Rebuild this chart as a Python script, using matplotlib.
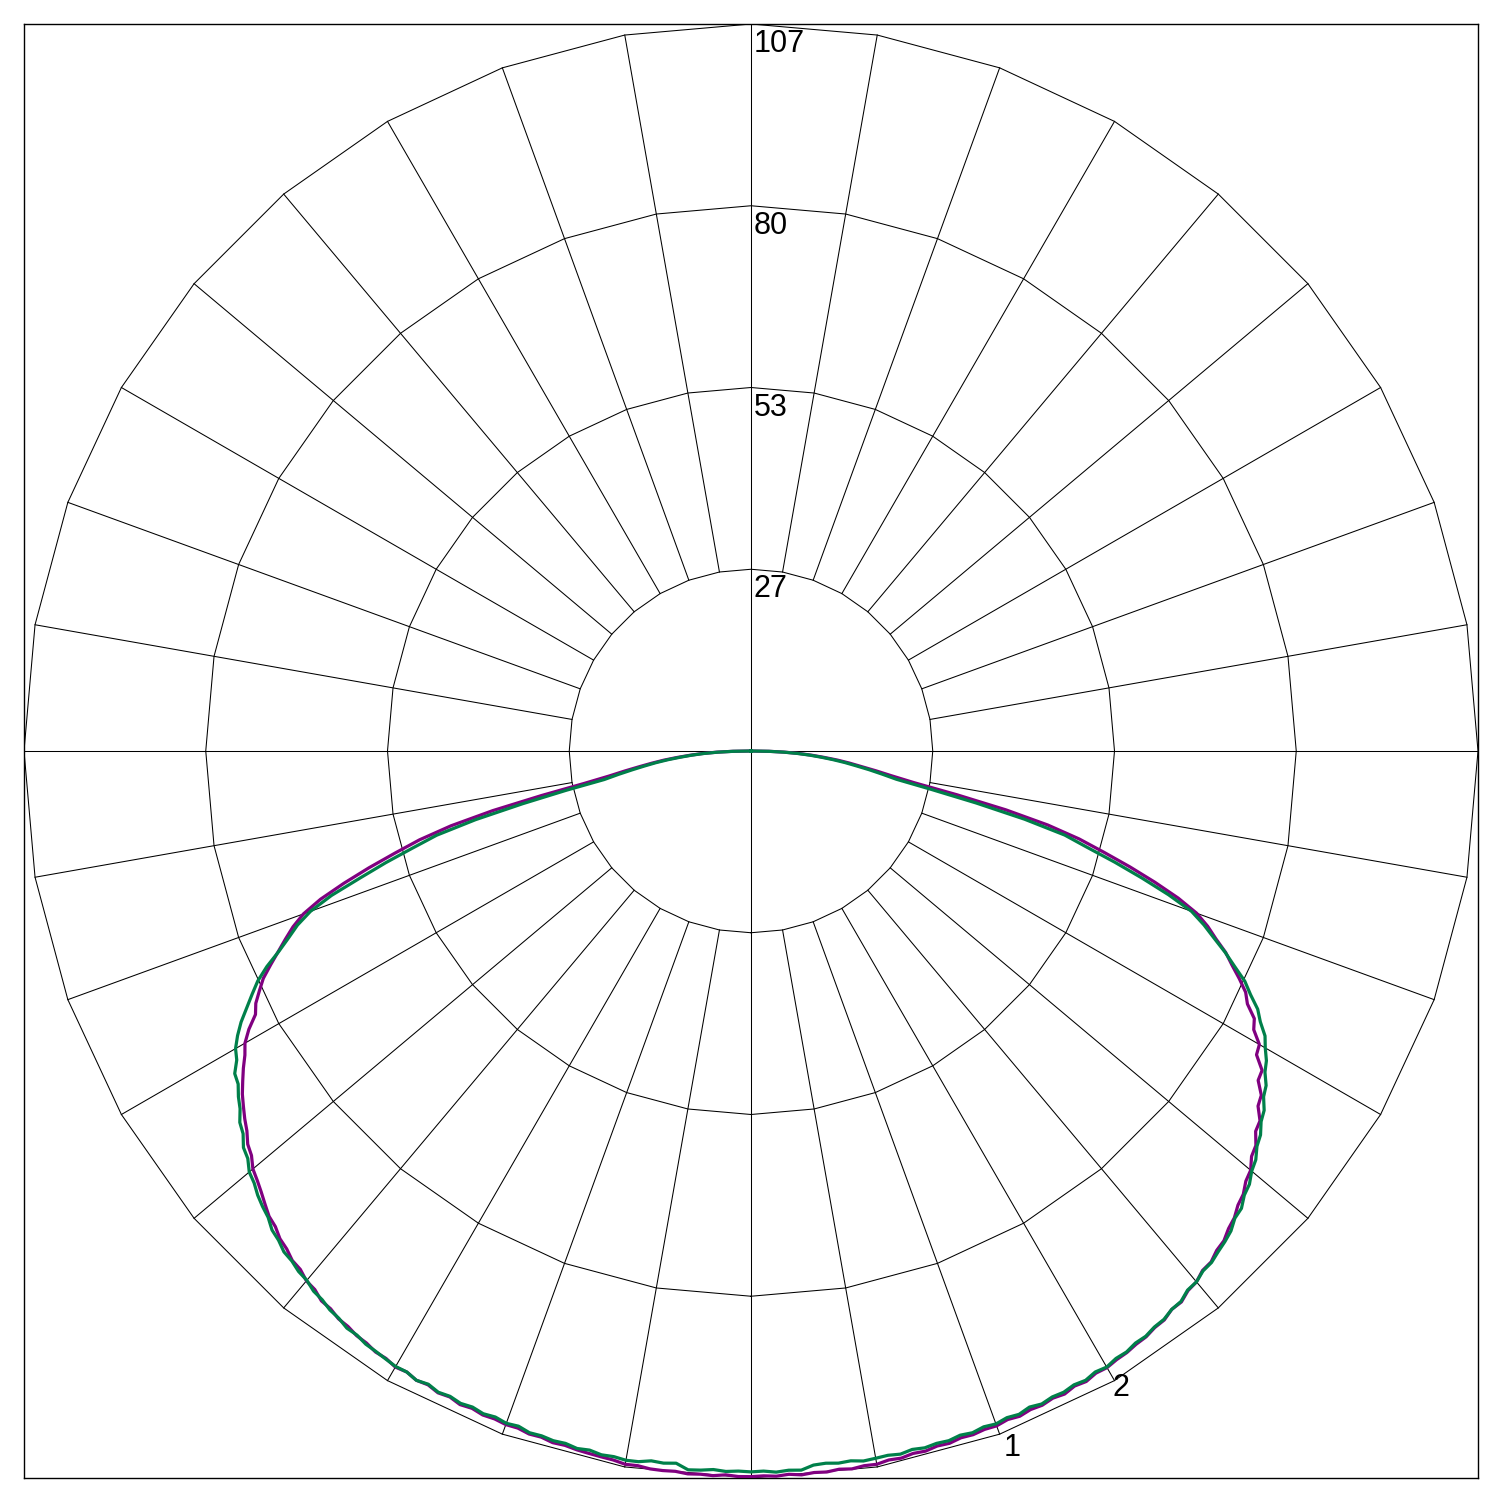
import numpy as np
import matplotlib
matplotlib.use("Agg")
import matplotlib.pyplot as plt

# ---------------- data ----------------
r_max = 107
ring_labels = ["27", "53", "80", "107"]
curve_labels = ["1", "2"]
curve_label_angles = [20, 30]

angles = list(range(-90, 91))  # gamma, 0 = straight down, positive = right

curve1 = [  # purple
    0.0, 2.7, 5.1, 7.2, 9.0, 10.9, 12.9, 14.7, 16.6, 18.8,
    21.2, 25.0, 31.5, 39.0, 45.5, 50.5, 54.5, 58.8, 63.0, 67.0,
    70.1, 72.2, 73.9, 75.6, 77.4, 79.2, 80.5, 81.8, 82.6, 84.5,
    86.0, 86.9, 88.1, 89.2, 90.3, 91.2, 92.1, 92.9, 94.0, 94.6,
    95.7, 96.3, 97.0, 97.8, 98.6, 99.0, 99.8, 100.2, 100.9, 101.1,
    101.8, 102.0, 102.7, 102.8, 103.3, 103.4, 103.8, 103.9, 104.3, 104.3,
    104.7, 104.5, 104.9, 104.7, 105.1, 104.9, 105.3, 105.1, 105.4, 105.3,
    105.5, 105.4, 105.7, 105.6, 105.9, 105.8, 106.0, 106.1, 106.2, 106.3,
    106.6, 106.5, 106.7, 106.7, 106.6, 106.8, 106.7, 106.8, 106.6, 106.8,
    106.8, 106.7, 106.8, 106.6, 106.8, 106.6, 106.7, 106.5, 106.7, 106.5,
    106.6, 106.3, 106.4, 106.1, 106.2, 105.9, 106.0, 105.7, 105.8, 105.6,
    105.7, 105.4, 105.6, 105.3, 105.4, 105.1, 105.3, 104.9, 105.1, 104.7,
    104.8, 104.5, 104.4, 104.1, 104.0, 103.6, 103.5, 102.9, 102.9, 102.2,
    102.0, 101.3, 101.2, 100.5, 100.2, 99.4, 98.9, 98.0, 97.5, 96.5,
    96.0, 94.8, 94.3, 93.0, 92.6, 91.1, 90.6, 89.0, 88.7, 86.8,
    86.4, 84.6, 83.9, 82.0, 81.0, 79.3, 77.5, 75.9, 73.8, 72.0,
    69.8, 66.5, 62.5, 58.3, 54.0, 50.0, 45.0, 38.5, 31.0, 24.5,
    21.0, 18.6, 16.4, 14.6, 12.8, 10.8, 9.0, 7.1, 5.0, 2.7, 0.0,
]

curve2 = [  # green
    0.0, 2.6, 4.9, 6.9, 8.7, 10.4, 12.3, 14.1, 15.8, 17.7,
    19.8, 22.0, 27.8, 34.5, 41.8, 47.9, 51.8, 56.2, 60.5, 65.3,
    69.0, 71.5, 73.4, 75.5, 78.0, 80.1, 81.7, 83.3, 85.0, 86.4,
    87.6, 88.3, 89.6, 90.0, 91.0, 91.8, 93.0, 93.6, 94.8, 95.3,
    96.4, 96.9, 97.7, 98.3, 98.8, 99.7, 100.1, 100.8, 101.0, 101.5,
    101.7, 102.3, 102.5, 103.0, 103.2, 103.7, 103.7, 104.1, 104.2, 104.4,
    104.6, 104.5, 104.9, 104.6, 105.0, 104.8, 105.1, 104.9, 105.2, 105.0,
    105.3, 105.1, 105.5, 105.4, 105.6, 105.5, 105.8, 105.6, 105.9, 105.8,
    106.0, 105.9, 105.5, 105.6, 105.4, 106.2, 106.1, 105.9, 106.1, 106.0,
    106.1, 106.0, 106.2, 106.0, 106.1, 105.5, 105.4, 105.6, 105.5, 105.8,
    105.7, 105.6, 105.8, 105.5, 105.7, 105.5, 105.6, 105.3, 105.5, 105.2,
    105.4, 105.1, 105.3, 104.9, 105.2, 104.9, 105.0, 104.7, 104.9, 104.5,
    104.7, 104.3, 104.3, 103.9, 103.9, 103.5, 103.4, 102.9, 102.8, 102.1,
    102.0, 101.4, 101.3, 100.8, 100.4, 99.9, 99.0, 98.7, 97.7, 97.2,
    96.2, 95.6, 94.5, 93.9, 92.8, 92.2, 91.0, 90.4, 89.2, 88.5,
    87.4, 86.5, 84.9, 83.7, 81.8, 80.2, 77.9, 75.8, 73.5, 71.4,
    69.0, 65.0, 60.5, 56.0, 51.5, 47.8, 41.5, 34.0, 27.0, 21.8,
    19.6, 17.6, 15.6, 13.9, 12.1, 10.3, 8.6, 6.8, 4.8, 2.6, 0.0,
]

# ---------------- figure ----------------
W, H = 1500, 1502
fig = plt.figure(figsize=(W / 100, H / 100), dpi=100)
fig.patch.set_facecolor("white")
ax = fig.add_axes([24 / W, 24 / H, 1454 / W, 1454 / H])
ax.set_xlim(-r_max, r_max)
ax.set_ylim(-r_max, r_max)
ax.set_aspect("auto")
ax.set_xticks([])
ax.set_yticks([])
for s in ax.spines.values():
    s.set_linewidth(1.0)
    s.set_color("black")


def to_xy(theta_deg, r):
    t = np.radians(np.asarray(theta_deg, dtype=float))
    r = np.asarray(r, dtype=float)
    return r * np.sin(t), -r * np.cos(t)


grid_kw = dict(color="black", lw=0.75, solid_joinstyle="miter", zorder=1)

# rings as polygons with vertices every 10 degrees
poly_ang = np.arange(0, 361, 10)
ring_vals = [r_max * k / 4 for k in range(1, 5)]
for rv in ring_vals:
    x, y = to_xy(poly_ang, np.full(poly_ang.shape, rv))
    ax.plot(x, y, **grid_kw)

# spokes
r_in = ring_vals[0]
for a in range(0, 360, 10):
    start = 0 if a % 90 == 0 else r_in
    x, y = to_xy([a, a], [start, r_max])
    ax.plot(x, y, **grid_kw)

# ring labels along the upward vertical axis
for rv, lab in zip(ring_vals, ring_labels):
    ax.annotate(lab, xy=(0, rv), xycoords="data", xytext=(3, -5),
                textcoords="offset pixels", ha="left", va="top",
                fontsize=22, family="Liberation Sans", color="black")

# curves
ax.plot(*to_xy(angles, curve1), color="#800080", lw=2.3, zorder=3,
        solid_joinstyle="round")
ax.plot(*to_xy(angles, curve2), color="#00804A", lw=2.3, zorder=4,
        solid_joinstyle="round")

# curve labels at the outer ring
label_offsets = [(4, 1), (-2, 8)]
for lab, a, off in zip(curve_labels, curve_label_angles, label_offsets):
    x, y = to_xy(a, r_max)
    ax.annotate(lab, xy=(float(x), float(y)), xycoords="data", xytext=off,
                textcoords="offset pixels", ha="left", va="top",
                fontsize=22, family="Liberation Sans", color="black")

fig.savefig("out.png", dpi=100, facecolor="white")
